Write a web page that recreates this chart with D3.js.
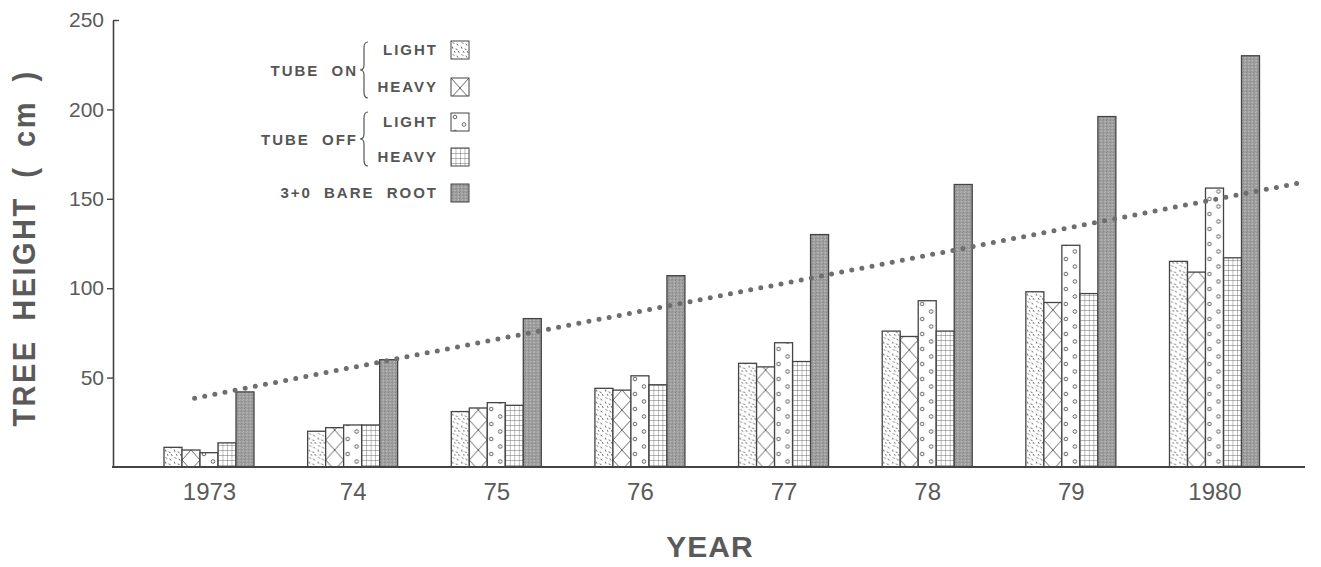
<!DOCTYPE html>
<html>
<head>
<meta charset="utf-8">
<script src="https://cdn.jsdelivr.net/npm/d3@7"></script>
<style>
body { margin: 0; background: #fff; }
svg { display: block; }
</style>
</head>
<body>
<div class="container"></div>
<script>
// data
var years = [1973, 1974, 1975, 1976, 1977, 1978, 1979, 1980];
var yearLabels = ['1973', '74', '75', '76', '77', '78', '79', '1980'];
var tubeOnLight  = [11, 20, 31, 44, 58, 76, 98, 115];
var tubeOnHeavy  = [9.5, 22, 33, 43, 56, 73, 92, 109];
var tubeOffLight = [8, 23.5, 36, 51, 69.5, 93, 124, 156];
var tubeOffHeavy = [13.5, 23.5, 34.5, 46, 59, 76, 97, 117];
var bareRoot     = [42, 60, 83, 107, 130, 158, 196, 230];
var yTicks = [50, 100, 150, 200, 250];
var trendYears  = [1972.9, 1980.63];
var trendValues = [38.5, 159.5];
var legendLabels = ['LIGHT', 'HEAVY', 'LIGHT', 'HEAVY', '3+0 BARE ROOT'];
var groupLabels = ['TUBE ON', 'TUBE OFF'];

const WIDTH = 1321;
const HEIGHT = 567;
const LEFT = 113;
const RIGHT = 1305;
const TOP = 20;
const BASE = 467;
const BAR_W = 18;
const INK = '#444';
const GREY = '#5a5a5a';

var series = [tubeOnLight, tubeOnHeavy, tubeOffLight, tubeOffHeavy, bareRoot];
var patternIds = ['onLight', 'onHeavy', 'offLight', 'offHeavy', 'bare'];

var svg = d3.select('.container').append('svg')
	.attr('width', WIDTH)
	.attr('height', HEIGHT)
	.style('font-family', '"Liberation Sans", Arial, Helvetica, sans-serif');

var x = d3.scaleLinear().domain([1973, 1980]).range([209, 1214.5]);
var y = d3.scaleLinear().domain([0, 250]).range([BASE, TOP]);

// ---- hatch patterns (userSpaceOnUse, each bar sits in its own translated g)
var defs = svg.append('defs');

var p1 = defs.append('pattern').attr('id', 'onLight')
	.attr('patternUnits', 'userSpaceOnUse').attr('width', 9).attr('height', 12);
p1.append('rect').attr('width', 9).attr('height', 12).attr('fill', '#fff');
[[2, 1.5, 3, 2.5], [6, 3, 6.8, 4.2], [1.5, 6, 1.8, 7.3], [5, 8, 6.2, 8.6], [7.5, 10.5, 8, 11.6], [3.5, 10.5, 3.9, 11.4]]
	.forEach(function(s) {
		p1.append('line').attr('x1', s[0]).attr('y1', s[1]).attr('x2', s[2]).attr('y2', s[3])
			.attr('stroke', '#555').attr('stroke-width', 0.9).attr('stroke-linecap', 'round');
	});

var p2 = defs.append('pattern').attr('id', 'onHeavy')
	.attr('patternUnits', 'userSpaceOnUse').attr('width', BAR_W).attr('height', 20);
p2.append('rect').attr('width', BAR_W).attr('height', 20).attr('fill', '#fff');
p2.append('path').attr('d', 'M0,0L' + BAR_W + ',20M' + BAR_W + ',0L0,20')
	.attr('stroke', '#555').attr('stroke-width', 0.9).attr('fill', 'none');

var p3 = defs.append('pattern').attr('id', 'offLight')
	.attr('patternUnits', 'userSpaceOnUse').attr('width', BAR_W).attr('height', 15);
p3.append('rect').attr('width', BAR_W).attr('height', 15).attr('fill', '#fff');
[[4, 4], [13, 11.5]].forEach(function(c) {
	p3.append('circle').attr('cx', c[0]).attr('cy', c[1]).attr('r', 1.8)
		.attr('fill', 'none').attr('stroke', '#555').attr('stroke-width', 0.9);
});

var p4 = defs.append('pattern').attr('id', 'offHeavy')
	.attr('patternUnits', 'userSpaceOnUse').attr('width', BAR_W / 4).attr('height', 5);
p4.append('rect').attr('width', BAR_W / 4).attr('height', 5).attr('fill', '#fff');
p4.append('path').attr('d', 'M0,0V5M0,0H' + (BAR_W / 4))
	.attr('stroke', '#555').attr('stroke-width', 0.8).attr('fill', 'none');

var p5 = defs.append('pattern').attr('id', 'bare')
	.attr('patternUnits', 'userSpaceOnUse').attr('width', 3.6).attr('height', 3.2);
p5.append('rect').attr('width', 3.6).attr('height', 3.2).attr('fill', '#c4c4c4');
[[0.9, 0.8], [2.7, 2.4]].forEach(function(c) {
	p5.append('circle').attr('cx', c[0]).attr('cy', c[1]).attr('r', 1.05)
		.attr('fill', '#f4f4f4').attr('stroke', '#4a4a4a').attr('stroke-width', 0.6);
});

// ---- bars
var barData = [];
years.forEach(function(yr, i) {
	series.forEach(function(s, k) {
		barData.push({ year: yr, k: k, value: s[i] });
	});
});

var bars = svg.append('g').classed('bars', true)
	.selectAll('g').data(barData).enter().append('g')
	.attr('transform', function(d) { return 'translate(' + (x(d.year) - 2.5 * BAR_W + d.k * BAR_W) + ',0)'; });

bars.append('rect')
	.attr('x', 0)
	.attr('y', function(d) { return y(d.value); })
	.attr('width', BAR_W)
	.attr('height', function(d) { return BASE - y(d.value); })
	.attr('fill', function(d) { return 'url(#' + patternIds[d.k] + ')'; })
	.attr('stroke', INK)
	.attr('stroke-width', 1.3);

// ---- dotted trend line
var line = d3.line()
	.x(function(d) { return x(d[0]); })
	.y(function(d) { return y(d[1]); });

svg.append('path')
	.datum(d3.zip(trendYears, trendValues))
	.attr('d', line)
	.attr('fill', 'none')
	.attr('stroke', '#6e6e6e')
	.attr('stroke-width', 5)
	.attr('stroke-linecap', 'round')
	.attr('stroke-dasharray', '0 10.3');

// ---- axes
var yAxis = d3.axisLeft(y).tickValues(yTicks).tickSizeInner(6).tickSizeOuter(0).tickPadding(3);
var yG = svg.append('g')
	.attr('transform', 'translate(' + LEFT + ',0)')
	.call(yAxis);
yG.select('.domain').attr('stroke', INK).attr('stroke-width', 1.6);
yG.selectAll('.tick line').attr('stroke', INK).attr('stroke-width', 1.4)
	.filter(function(d) { return d === 250; }).attr('x2', 6);
yG.selectAll('.tick text').attr('fill', GREY).style('font-size', '21px');

var xAxis = d3.axisBottom(x).tickValues(years)
	.tickFormat(function(d, i) { return yearLabels[i]; })
	.tickSize(0).tickPadding(16);
var xG = svg.append('g')
	.attr('transform', 'translate(0,' + BASE + ')')
	.call(xAxis);
xG.select('.domain').remove();
xG.selectAll('.tick text').attr('fill', GREY).style('font-size', '24px');
xG.append('line')
	.attr('x1', LEFT - 1).attr('x2', RIGHT)
	.attr('stroke', INK).attr('stroke-width', 2.2);

// ---- axis titles
svg.append('text')
	.attr('transform', 'translate(35,248) rotate(-90) scale(1,1.05)')
	.attr('text-anchor', 'middle')
	.attr('fill', GREY)
	.style('font-size', '29px')
	.style('font-weight', 'bold')
	.style('letter-spacing', '2.5px')
	.style('word-spacing', '8px')
	.text('TREE HEIGHT ( cm )');

svg.append('text')
	.attr('x', 710).attr('y', 557)
	.attr('text-anchor', 'middle')
	.attr('fill', GREY)
	.style('font-size', '30px')
	.style('font-weight', 'bold')
	.style('letter-spacing', '1px')
	.text('YEAR');

// ---- legend
var rowY = [50, 87, 122, 157, 193];
var groupY = [71, 140];
var braceSpan = [[42, 98], [112, 166]];
var legend = svg.append('g').classed('legend', true)
	.attr('fill', '#555')
	.style('font-size', '15px')
	.style('font-weight', 'bold')
	.style('letter-spacing', '2px')
	.style('word-spacing', '6px');

legend.selectAll('text.row').data(legendLabels).enter().append('text')
	.classed('row', true)
	.attr('x', 438)
	.attr('y', function(d, i) { return rowY[i]; })
	.attr('dy', '0.36em')
	.attr('text-anchor', 'end')
	.text(function(d) { return d; });

legend.selectAll('text.group').data(groupLabels).enter().append('text')
	.classed('group', true)
	.attr('x', 358)
	.attr('y', function(d, i) { return groupY[i]; })
	.attr('dy', '0.36em')
	.attr('text-anchor', 'end')
	.text(function(d) { return d; });

legend.selectAll('path.brace').data(braceSpan).enter().append('path')
	.classed('brace', true)
	.attr('d', function(d) {
		var t = d[0], b = d[1], m = (t + b) / 2, bx = 364;
		return 'M' + (bx + 4) + ',' + t +
			'Q' + bx + ',' + t + ' ' + bx + ',' + (t + 6) +
			'V' + (m - 5) +
			'Q' + bx + ',' + m + ' ' + (bx - 4) + ',' + m +
			'Q' + bx + ',' + m + ' ' + bx + ',' + (m + 5) +
			'V' + (b - 6) +
			'Q' + bx + ',' + b + ' ' + (bx + 4) + ',' + b;
	})
	.attr('fill', 'none')
	.attr('stroke', '#555')
	.attr('stroke-width', 1.2);

var sw = legend.selectAll('g.swatch').data(patternIds).enter().append('g')
	.classed('swatch', true)
	.attr('transform', function(d, i) { return 'translate(451,' + (rowY[i] - 9) + ')'; });
sw.append('rect')
	.attr('width', BAR_W).attr('height', 18)
	.attr('fill', function(d) { return 'url(#' + d + ')'; })
	.attr('stroke', INK).attr('stroke-width', 1);
</script>
</body>
</html>
